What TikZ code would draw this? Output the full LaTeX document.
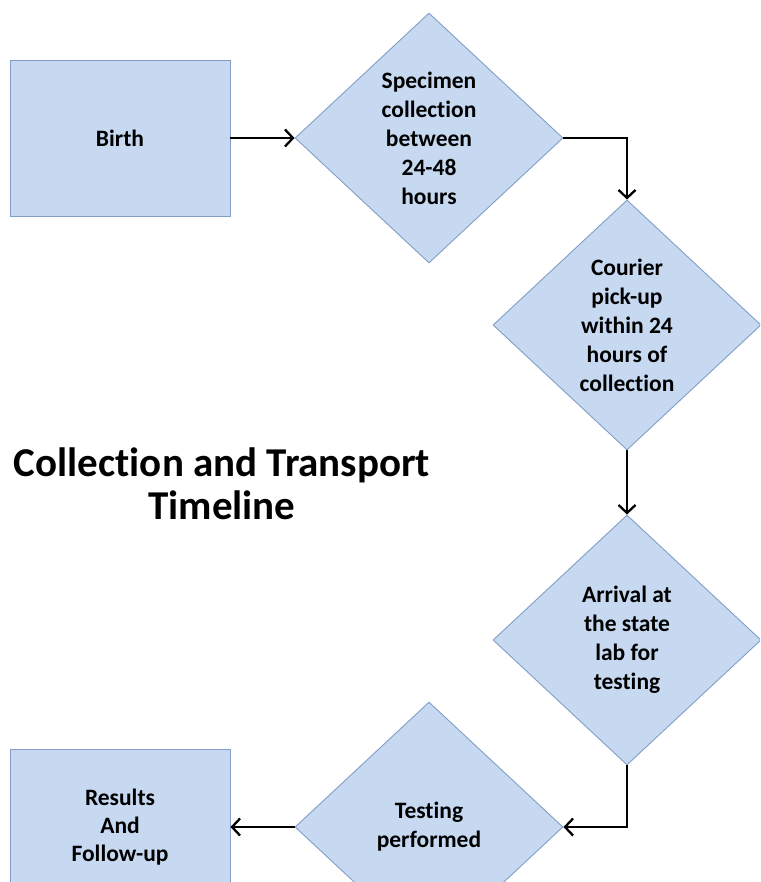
\documentclass[tikz,border=0pt]{standalone}
\usepackage{fontspec}
\setmainfont[Ligatures=NoCommon]{Carlito}
\usetikzlibrary{shapes.geometric,arrows.meta}
\definecolor{boxfill}{RGB}{198,217,241}
\definecolor{boxline}{RGB}{130,158,198}
\tikzset{
  rectbox/.style={draw=boxline,fill=boxfill,line width=0.9pt,minimum width=220pt,minimum height=156pt,inner sep=0pt,
    font=\bfseries\fontsize{23.5}{28}\selectfont,align=center},
  diabox/.style={shape=diamond,draw=boxline,fill=boxfill,line width=0.9pt,minimum width=268pt,minimum height=250pt,inner sep=0pt},
  diatext/.style={font=\bfseries\fontsize{23.5}{29}\selectfont,align=center,inner sep=0pt},
  conn/.style={line width=2.3pt,-{Straight Barb[length=8pt,width=17pt,line width=2.3pt]}},
}
\begin{document}
\begin{tikzpicture}[x=1pt,y=-1pt]
\useasboundingbox (0,0) rectangle (760,882);
\clip (0,0) rectangle (760,882);
\fill[white] (0,0) rectangle (760,882);
\node[rectbox] (birth) at (120,138) {Birth};
\node[diabox,label={[diatext]center:{Specimen\\collection\\between\\24-48\\hours}}] (d1) at (429,138) {};
\node[diabox,label={[diatext]center:{Courier\\pick-up\\within 24\\hours of\\collection}}] (d2) at (627,325) {};
\node[diabox,label={[diatext]center:{Arrival at\\the state\\lab for\\testing}}] (d3) at (627,640) {};
\node[diabox,label={[diatext]center:{Testing\\performed}}] (d4) at (429,827) {};
\node[rectbox] (res) at (120,827) {Results\\And\\Follow-up};
\node[font=\bfseries\fontsize{41}{43}\selectfont,align=center] (title) at (222,484) {Collection and Transport\\Timeline};
\draw[conn] (birth.east) -- (d1.west);
\draw[conn] (d1.east) -| (d2.north);
\draw[conn] (d2.south) -- (d3.north);
\draw[conn] (d3.south) |- (d4.east);
\draw[conn] (d4.west) -- (res.east);
\end{tikzpicture}
\end{document}
